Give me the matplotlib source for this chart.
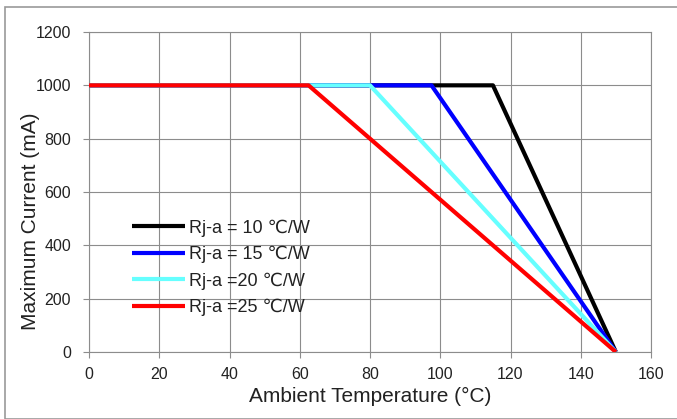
import matplotlib
matplotlib.use('Agg')
import matplotlib.pyplot as plt
from matplotlib.patches import Rectangle

plt.rcParams['font.family'] = ['Liberation Sans', 'DejaVu Sans']

# Derating curves: constant current up to the knee, then linear to 0 at 150 C.
labels = ['Rj-a = 10 \u2103/W', 'Rj-a = 15 \u2103/W', 'Rj-a =20 \u2103/W', 'Rj-a =25 \u2103/W']
colors = ['#000000', '#0000ff', '#66ffff', '#ff0000']
knee_temps = [115, 97.5, 80, 62.5]
t_start = 0
t_end = 150
i_max = 1000

grid_color = '#8c8c8c'
text_color = '#222222'

fig = plt.figure(figsize=(6.77, 4.19), dpi=100)
ax = fig.add_axes([89/677, 1 - 352/419, 562/677, 320/419])

for label, color, knee in zip(labels, colors, knee_temps):
    ax.plot([t_start, knee, t_end], [i_max, i_max, 0], color=color, lw=3.0,
            label=label, solid_capstyle='butt', zorder=3)

ax.set_xlim(0, 160)
ax.set_ylim(0, 1200)
ax.set_xticks(range(0, 161, 20))
ax.set_yticks(range(0, 1201, 200))
ax.grid(True, color=grid_color, lw=0.8)
ax.set_axisbelow(True)
for s in ax.spines.values():
    s.set_color(grid_color)
    s.set_linewidth(0.8)
ax.tick_params(axis='both', direction='out', length=4, width=0.8, color=grid_color,
               labelsize=11.5, labelcolor=text_color)
ax.tick_params(axis='y', pad=9)
ax.tick_params(axis='x', pad=7)

ax.set_xlabel('Ambient Temperature (\u00b0C)', fontsize=15, color=text_color, labelpad=3)
ax.set_ylabel('Maximum Current (mA)', fontsize=15, color=text_color)
ax.yaxis.set_label_coords(-0.088, 0.41)

ax.legend(loc='lower left', bbox_to_anchor=(0.064, 0.09),
          frameon=False, fontsize=13, handlelength=2.9, handletextpad=0.25,
          labelspacing=0.5, labelcolor=text_color, borderaxespad=0)

# Outer chart border.
fig.patches.append(Rectangle((5/677, 0), 1.1, 1 - 7/419, transform=fig.transFigure,
                             fill=False, edgecolor='#999999', lw=1.2))

fig.savefig('out.png', dpi=100)
